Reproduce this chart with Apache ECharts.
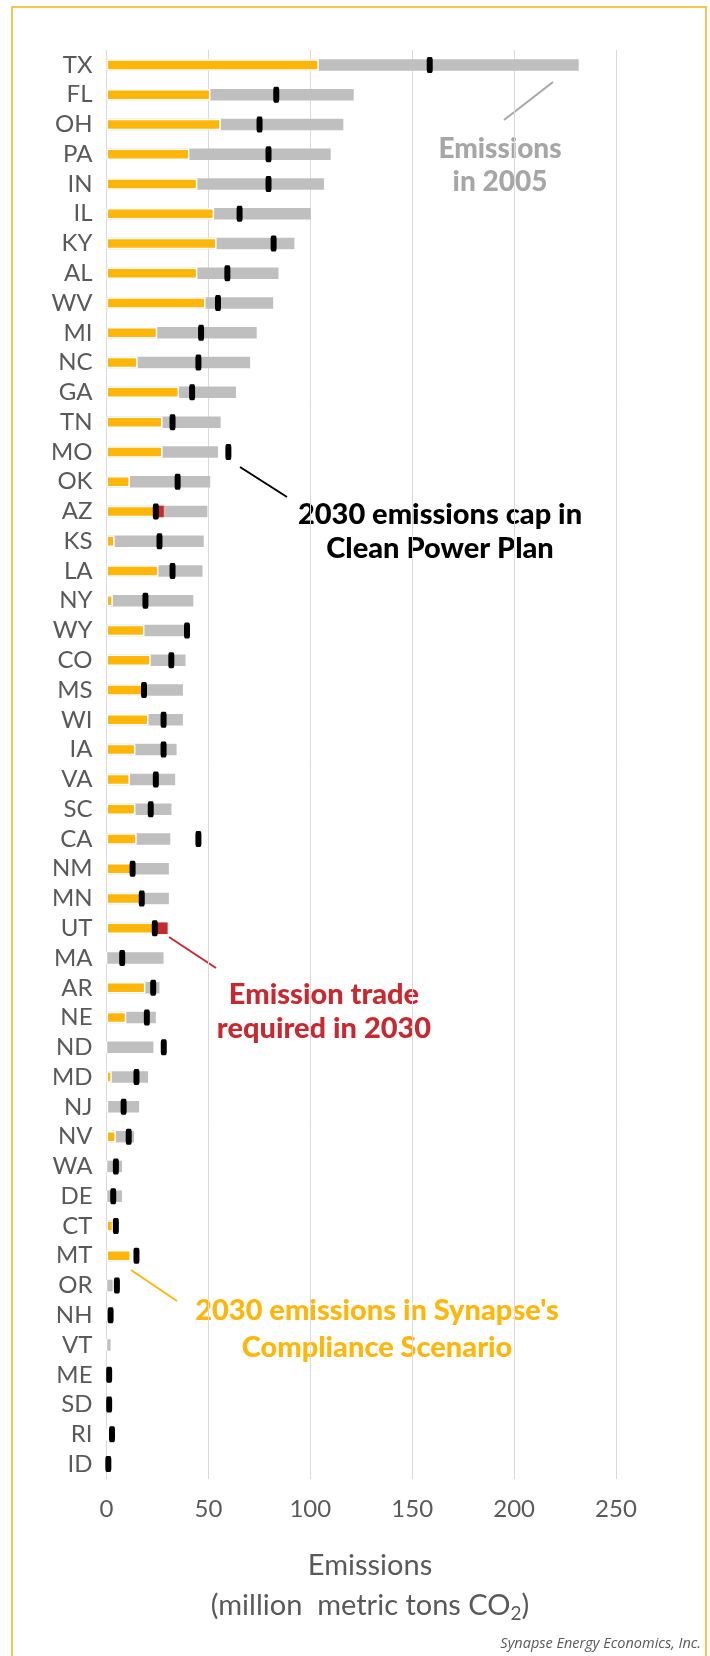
<!DOCTYPE html>
<html>
<head>
<meta charset="utf-8">
<script src="https://cdn.jsdelivr.net/npm/echarts@6/dist/echarts.min.js"></script>
<style>
html,body{margin:0;padding:0;background:#fff;}
#c{width:710px;height:1656px;}
</style>
</head>
<body>
<div id="c"></div>
<script>
// States, ordered by 2005 emissions
var states = ['TX','FL','OH','PA','IN','IL','KY','AL','WV','MI','NC','GA','TN','MO','OK','AZ','KS','LA','NY','WY','CO','MS','WI','IA','VA','SC','CA','NM','MN','UT','MA','AR','NE','ND','MD','NJ','NV','WA','DE','CT','MT','OR','NH','VT','ME','SD','RI','ID'];
// Emissions in 2005 (million metric tons CO2)
var em2005 = [231.7,121.3,116.2,110.0,106.7,100.2,92.2,84.4,81.8,73.7,70.5,63.5,56.0,54.7,50.9,49.5,47.7,47.1,42.6,39.5,38.8,37.5,37.5,34.4,33.7,31.9,31.3,30.6,30.6,29.5,28.0,26.0,24.2,23.0,20.4,16.0,13.5,7.6,7.6,4.2,11.0,3.0,0,2.0,0,0,0,0];
// 2030 emissions in Synapse's Compliance Scenario
var em2030 = [104.2,51.0,56.1,40.7,44.6,52.8,54.0,44.6,48.6,24.9,15.3,35.6,27.5,27.5,11.5,28.1,4.0,25.5,3.1,18.6,21.7,19.0,20.6,14.2,11.5,14.2,14.8,12.5,17.0,30.0,0,19.1,9.7,0,2.6,0.8,4.6,0,0,3.3,12.0,0,0,0,0,0,0,0];
// 2030 emissions cap in Clean Power Plan
var cap2030 = [158.6,83.3,75.1,79.5,79.5,65.3,82.0,59.3,54.7,46.4,45.1,42.0,32.4,59.8,34.9,24.2,26.0,32.4,19.1,39.5,31.8,18.4,28.0,28.0,24.2,21.7,45.1,12.8,17.3,23.7,7.7,22.9,19.8,28.1,14.7,8.4,10.9,4.6,3.3,4.6,14.7,5.1,2.0,null,1.3,1.3,2.7,0.9];
var xTicks = [0,50,100,150,200,250];

// derived: part within cap (gold) and part above cap (red, trade required)
var goldPart = em2030.map(function(v,i){ var c = cap2030[i]; return (c != null && v > c) ? c : v; });
var redPart = em2030.map(function(v,i){ var c = cap2030[i]; return (c != null && v > c) ? +(v - c).toFixed(2) : 0; });

var chart = echarts.init(document.getElementById('c'));
var FONT = 'Lato, "Noto Sans", sans-serif';
chart.setOption({
  animation: false,
  grid: {left: 106.5, right: 94, top: 50, bottom: 177, containLabel: false},
  xAxis: {
    type: 'value', min: 0, max: 250, interval: 50,
    axisLine: {show: false}, axisTick: {show: false},
    splitLine: {show: true, lineStyle: {color: '#d9d9d9', width: 1}},
    axisLabel: {color: '#595959', fontSize: 24, fontFamily: FONT, margin: 18,
      formatter: function(v){ return xTicks.indexOf(v) >= 0 ? String(v) : ''; }}
  },
  yAxis: {
    type: 'category', data: states, inverse: true,
    axisLine: {show: false}, axisTick: {show: false},
    axisLabel: {color: '#595959', fontSize: 24, fontFamily: FONT, margin: 14, interval: 0}
  },
  series: [
    {type: 'bar', name: '2005', data: em2005, barWidth: 11.5, barGap: '-100%',
     itemStyle: {color: '#bfbfbf'}, z: 1},
    {type: 'bar', name: '2030 Synapse', data: goldPart, stack: 's', barWidth: 11.5,
     itemStyle: {color: '#ffb60b', borderColor: '#ffffff', borderWidth: 1.5}, z: 2},
    {type: 'bar', name: 'Trade', data: redPart, stack: 's', barWidth: 11.5,
     itemStyle: {color: '#c62a30'}, z: 2},
    {type: 'scatter', name: 'Cap', data: cap2030, symbol: 'roundRect', symbolSize: [6, 16],
     itemStyle: {color: '#000000', opacity: 1}, z: 5}
  ],
  graphic: [
    {type: 'rect', shape: {x: 12, y: 7, width: 694, height: 1720},
     style: {fill: 'none', stroke: '#f6b21c', lineWidth: 1.5}, silent: true},
    // leader lines
    {type: 'line', shape: {x1: 553, y1: 82, x2: 504, y2: 120}, style: {stroke: '#a6a6a6', lineWidth: 2}},
    {type: 'line', shape: {x1: 240, y1: 467, x2: 287, y2: 497}, style: {stroke: '#000000', lineWidth: 2}},
    {type: 'line', shape: {x1: 169, y1: 937, x2: 216, y2: 968}, style: {stroke: '#c62a30', lineWidth: 2}},
    {type: 'line', shape: {x1: 131, y1: 1270, x2: 177, y2: 1301}, style: {stroke: '#ffb60b', lineWidth: 2}},
    // annotation texts
    {type: 'text', x: 500, y: 165, style: {text: 'Emissions\nin 2005', fill: '#a6a6a6', font: '900 28px ' + FONT, align: 'center', verticalAlign: 'middle', lineHeight: 33}},
    {type: 'text', x: 440, y: 532, style: {text: '2030 emissions cap in\nClean Power Plan', fill: '#000000', font: '900 29px ' + FONT, align: 'center', verticalAlign: 'middle', lineHeight: 34}},
    {type: 'text', x: 324, y: 1012, style: {text: 'Emission trade\nrequired in 2030', fill: '#c62a30', font: '900 29px ' + FONT, align: 'center', verticalAlign: 'middle', lineHeight: 34}},
    {type: 'text', x: 377, y: 1329, style: {text: "2030 emissions in Synapse's\nCompliance Scenario", fill: '#ffb60b', font: '900 29px ' + FONT, align: 'center', verticalAlign: 'middle', lineHeight: 37}},
    // axis title
    {type: 'text', x: 370, y: 1566, style: {text: 'Emissions', fill: '#595959', font: '29px ' + FONT, align: 'center', verticalAlign: 'middle'}},
    {type: 'text', x: 370, y: 1606, style: {
      text: '{t|(million  metric tons CO}{s|2}{t|)}', align: 'center', verticalAlign: 'middle',
      rich: {t: {fill: '#595959', fontSize: 29, fontFamily: FONT, lineHeight: 36},
             s: {fill: '#595959', fontSize: 19, fontFamily: FONT, lineHeight: 36, padding: [15, 0, 0, 0]}}}},
    {type: 'text', x: 701, y: 1644, style: {text: 'Synapse Energy Economics, Inc.', fill: '#595959', font: 'italic 14.5px "Open Sans", sans-serif', align: 'right', verticalAlign: 'middle'}}
  ]
});
</script>
</body>
</html>
